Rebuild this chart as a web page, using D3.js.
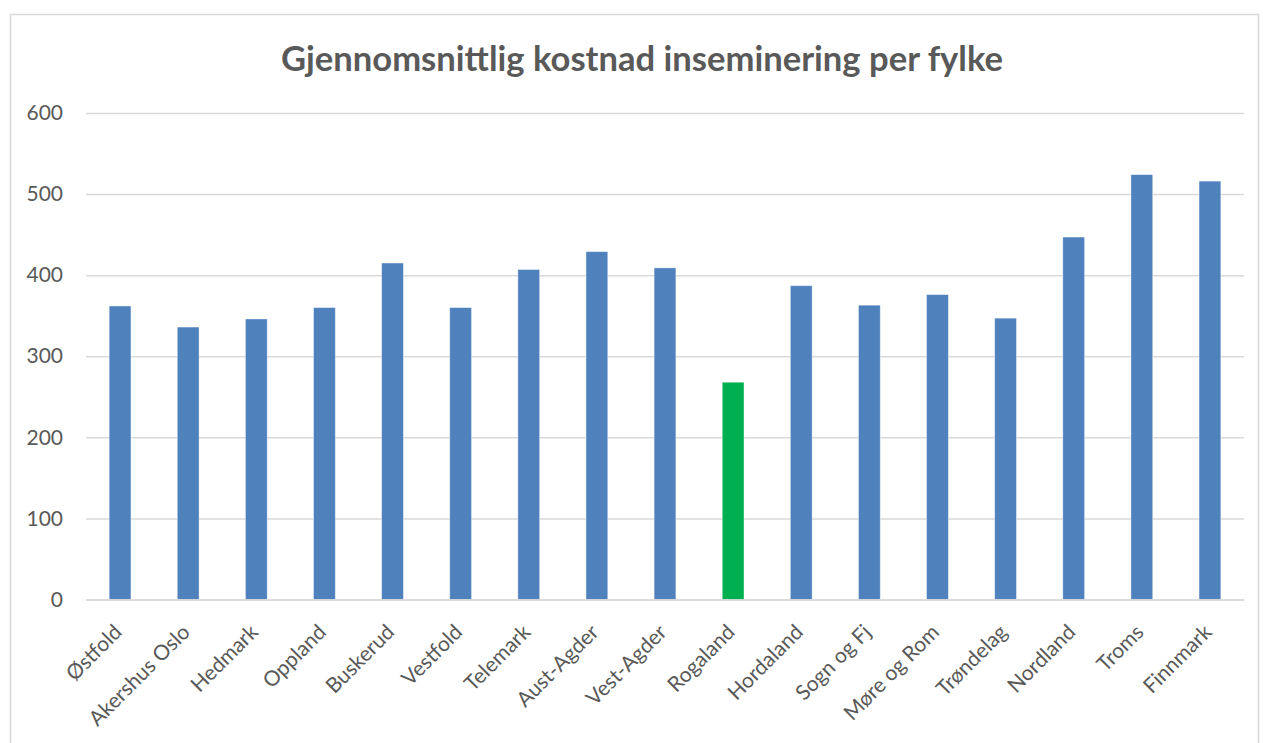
<!DOCTYPE html>
<html lang="no">
<head>
  <meta charset="UTF-8">
  <title>Gjennomsnittlig kostnad inseminering per fylke</title>
  <style>
    body {
      margin: 0;
      background-color: #fff;
      font-family: Lato, "Open Sans", sans-serif;
    }
  </style>
  <script src="https://d3js.org/d3.v7.min.js"></script>
</head>
<body>
  <div id="chart"></div>

  <script>
    // Data
    const fylker = ['Østfold', 'Akershus Oslo', 'Hedmark', 'Oppland', 'Buskerud', 'Vestfold',
      'Telemark', 'Aust-Agder', 'Vest-Agder', 'Rogaland', 'Hordaland', 'Sogn og Fj',
      'Møre og Rom', 'Trøndelag', 'Nordland', 'Troms', 'Finnmark'];
    const kostnad = [362, 336, 346, 360, 415, 360, 407, 429, 409, 268, 387, 363, 376, 347, 447, 524, 516];
    const highlighted = ['Rogaland'];
    const yTicks = [0, 100, 200, 300, 400, 500, 600];

    const width = 1263;
    const height = 743;
    const margin = { top: 113, right: 19, bottom: 143.5, left: 86 };

    const svg = d3.select('#chart')
      .append('svg')
      .attr('width', width)
      .attr('height', height);

    // Chart area border
    svg.append('rect')
      .attr('x', 10.5)
      .attr('y', 14.5)
      .attr('width', 1248)
      .attr('height', 740)
      .attr('fill', '#fff')
      .attr('stroke', '#d9d9d9')
      .attr('stroke-width', 1.5);

    // Title
    svg.append('text')
      .attr('x', 642)
      .attr('y', 71)
      .attr('text-anchor', 'middle')
      .attr('fill', '#595959')
      .style('font-size', '34.6px')
      .style('font-weight', 'bold')
      .text('Gjennomsnittlig kostnad inseminering per fylke');

    const x = d3.scaleBand()
      .domain(fylker)
      .range([margin.left, width - margin.right])
      .paddingInner(0.68)
      .paddingOuter(0.34);

    const y = d3.scaleLinear()
      .domain([0, 600])
      .range([height - margin.bottom, margin.top]);

    // Gridlines + y labels
    const yAxis = svg.append('g')
      .attr('transform', `translate(${margin.left},0)`)
      .call(d3.axisLeft(y)
        .tickValues(yTicks)
        .tickSize(-(width - margin.left - margin.right))
        .tickPadding(23));

    yAxis.select('.domain').remove();
    yAxis.selectAll('.tick line')
      .attr('stroke', '#d9d9d9')
      .attr('stroke-width', 1.5);
    yAxis.selectAll('.tick text')
      .attr('fill', '#595959')
      .style('font-size', '21px')
      .style('font-family', 'Lato, "Open Sans", sans-serif');

    // Bars
    svg.append('g')
      .selectAll('rect')
      .data(fylker)
      .enter()
      .append('rect')
      .attr('x', d => x(d))
      .attr('y', (d, i) => y(kostnad[i]))
      .attr('width', x.bandwidth())
      .attr('height', (d, i) => y(0) - y(kostnad[i]))
      .attr('fill', d => highlighted.includes(d) ? '#00b050' : '#4f81bd')
      .attr('stroke', '#ffffff')
      .attr('stroke-opacity', 0.5)
      .attr('stroke-width', 0.8);

    // X axis line + labels
    const xAxis = svg.append('g')
      .attr('transform', `translate(0,${y(0)})`)
      .call(d3.axisBottom(x).tickSize(0).tickPadding(0));

    xAxis.select('.domain')
      .attr('stroke', '#d9d9d9')
      .attr('stroke-width', 1.5);

    xAxis.selectAll('.tick text')
      .attr('fill', '#595959')
      .attr('text-anchor', 'end')
      .attr('dy', 0)
      .attr('transform', 'translate(3,34) rotate(-45)')
      .style('font-size', '21px')
      .style('font-family', 'Lato, "Open Sans", sans-serif');
  </script>
</body>
</html>
